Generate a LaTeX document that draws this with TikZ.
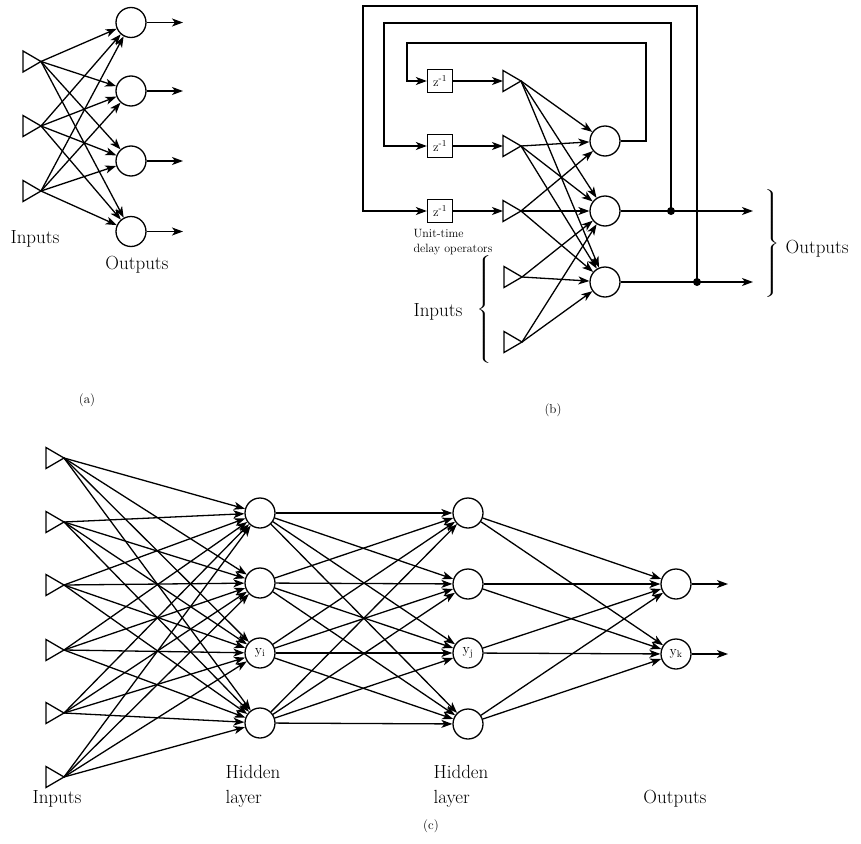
\documentclass[tikz,border=0pt]{standalone}
\usetikzlibrary{arrows.meta}
\newcommand\mytri[3]{%
  \coordinate (#1) at ({#2+18},#3);
  \coordinate (#1w) at (#2,#3);
  \draw[line join=miter] (#2,{#3-10.5}) -- (#2,{#3+10.5}) -- (#1) -- cycle;}
\begin{document}
\begin{tikzpicture}[x=1pt,y=-1pt,line width=1.3pt,
  neuron/.style={circle,draw,minimum size=30pt,inner sep=0pt,font=\fontsize{14}{14}\selectfont},
  arr/.style={-{Stealth[length=11pt,width=8pt,inset=3pt]}},
  zbox/.style={draw,minimum width=25pt,minimum height=23pt,inner sep=0pt,font=\fontsize{13}{13}\selectfont},
  lbl/.style={font=\fontsize{19}{23}\selectfont,inner sep=0pt},
  small/.style={font=\fontsize{12}{14}\selectfont,inner sep=0pt},
  plbl/.style={font=\fontsize{13}{13}\selectfont,inner sep=0pt},
  dot/.style={circle,fill,minimum size=8pt,inner sep=0pt},
  brace/.style={inner sep=0pt,font=\fontsize{16}{16}\selectfont}]
\useasboundingbox (0,0) rectangle (861,843);

% ---------------- (a)
\mytri{ai1}{23}{61.5}
\mytri{ai2}{23}{126}
\mytri{ai3}{23}{191}
\node[neuron] (ao1) at (131,22.5) {};
\node[neuron] (ao2) at (131,91) {};
\node[neuron] (ao3) at (131,161) {};
\node[neuron] (ao4) at (131,231.5) {};
\coordinate (ae1) at (183,22.5);
\coordinate (ae2) at (183,91);
\coordinate (ae3) at (183,161);
\coordinate (ae4) at (183,231.5);
\foreach \i in {1,2,3} \foreach \j in {1,...,4} \draw[arr] (ai\i) -- (ao\j);
\foreach \j in {1,...,4} \draw[arr] (ao\j) -- (ae\j);
\node[lbl,anchor=base] (alin) at (35,243) {Inputs};
\node[lbl,anchor=base] (alout) at (137,269) {Outputs};
\node[plbl] (pa) at (87,400) {(a)};

% ---------------- (b)
\mytri{bt1}{503}{81}
\mytri{bt2}{503}{146}
\mytri{bt3}{503}{211}
\mytri{bt4}{504}{277}
\mytri{bt5}{504}{342}
\node[zbox] (bz1) at (440,81) {z\textsuperscript{-1}};
\node[zbox] (bz2) at (440,146) {z\textsuperscript{-1}};
\node[zbox] (bz3) at (440,211) {z\textsuperscript{-1}};
\node[neuron] (bo1) at (605,141) {};
\node[neuron] (bo2) at (605,211) {};
\node[neuron] (bo3) at (605,282) {};
\foreach \i in {1,2,3} \draw[arr] (bz\i) -- (bt\i w);
\foreach \i in {1,2,3} \foreach \j in {1,2,3} \draw[arr] (bt\i) -- (bo\j);
\foreach \i in {4,5} \foreach \j in {2,3} \draw[arr] (bt\i) -- (bo\j);
\node[dot] (d1) at (671,211) {};
\node[dot] (d2) at (697,282) {};
\coordinate (be2) at (753,211);
\coordinate (be3) at (753,282);
\draw[arr] (bo2) -- (be2);
\draw[arr] (bo3) -- (be3);
\coordinate (itr) at (646,43);
\coordinate (itl) at (407,43);
\coordinate (mtl) at (384,23);
\coordinate (otl) at (363,6);
\draw[arr,line join=miter] (bo1.east) -| (itr) -- (itl) |- (bz1.west);
\draw[arr,line join=miter] (d1.center) |- (mtl) |- (bz2.west);
\draw[arr,line join=miter] (d2.center) |- (otl) |- (bz3.west);
\node[small,anchor=base west] (ut1) at (413,237) {Unit-time};
\node[small,anchor=base west] (ut2) at (413,252) {delay operators};
\node[brace] (bbr1) at (485,311) {\scalebox{1.7}[1]{$\left\{\vrule height 52pt depth 52pt width 0pt\right.$}};
\node[lbl,anchor=base] (blin) at (438,316) {Inputs};
\node[brace] (bbr2) at (771,245) {\scalebox{1.7}[1]{$\left.\vrule height 52pt depth 52pt width 0pt\right\}$}};
\node[lbl,anchor=base west] (blout) at (785,253) {Outputs};
\node[plbl] (pb) at (553,410) {(b)};

% ---------------- (c)
\mytri{ci1}{46}{458}
\mytri{ci2}{46}{522}
\mytri{ci3}{46}{585}
\mytri{ci4}{46}{650}
\mytri{ci5}{46}{713}
\mytri{ci6}{46}{777}
\node[neuron] (ch1) at (260,513) {};
\node[neuron] (ch2) at (260,583) {};
\node[neuron] (ch3) at (260,653) {y\textsubscript{i}};
\node[neuron] (ch4) at (260,723) {};
\node[neuron] (cg1) at (468,513) {};
\node[neuron] (cg2) at (468,584) {};
\node[neuron] (cg3) at (468,653) {y\textsubscript{j}};
\node[neuron] (cg4) at (468,724) {};
\node[neuron] (co1) at (676,584) {};
\node[neuron] (co2) at (676,654) {y\textsubscript{k}};
\coordinate (ce1) at (728,584);
\coordinate (ce2) at (728,654);
\foreach \i in {1,...,6} \foreach \j in {1,...,4} \draw[arr] (ci\i) -- (ch\j);
\foreach \i in {1,...,4} \foreach \j in {1,...,4} \draw[arr] (ch\i) -- (cg\j);
\foreach \i in {1,...,4} \foreach \j in {1,2} \draw[arr] (cg\i) -- (co\j);
\foreach \j in {1,2} \draw[arr] (co\j) -- (ce\j);
\node[lbl,anchor=base] (clin) at (57,803) {Inputs};
\node[lbl,anchor=base west] (ch1a) at (225,778) {Hidden};
\node[lbl,anchor=base west] (ch1b) at (225,803) {layer};
\node[lbl,anchor=base west] (ch2a) at (433,778) {Hidden};
\node[lbl,anchor=base west] (ch2b) at (433,803) {layer};
\node[lbl,anchor=base] (clout) at (675,803) {Outputs};
\node[plbl] (pc) at (431,826) {(c)};
\end{tikzpicture}
\end{document}
